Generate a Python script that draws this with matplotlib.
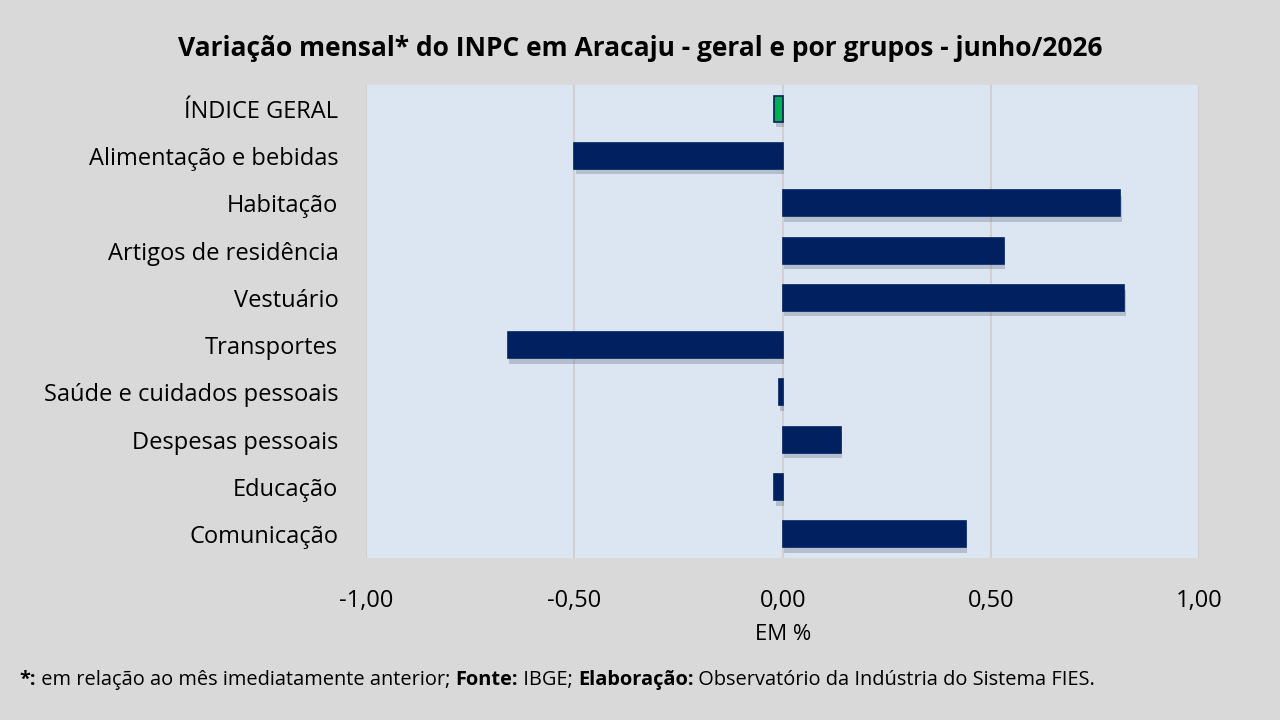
import numpy as np
import matplotlib.pyplot as plt
import matplotlib.patheffects as pe
from matplotlib.ticker import FuncFormatter

# dados
grupos = ["ÍNDICE GERAL", "Alimentação e bebidas", "Habitação", "Artigos de residência",
          "Vestuário", "Transportes", "Saúde e cuidados pessoais", "Despesas pessoais",
          "Educação", "Comunicação"]
variacao = [-0.02, -0.50, 0.81, 0.53, 0.82, -0.66, -0.01, 0.14, -0.02, 0.44]
cores = ["#00b050"] + ["#002060"] * 9

plt.rcParams['font.family'] = ['Open Sans', 'DejaVu Sans']

fig = plt.figure(figsize=(12.8, 7.2), dpi=100, facecolor="#d9d9d9")
ax = fig.add_axes([0.286, 0.225, 0.651, 0.657])
ax.set_facecolor("#dce6f2")

y = np.arange(len(grupos))
bars = ax.barh(y, variacao, height=0.55, color=cores, edgecolor="#002060", linewidth=1.2, zorder=3)
for b in bars:
    b.set_path_effects([pe.SimplePatchShadow(offset=(1, -4), shadow_rgbFace="#6b7585", alpha=0.35),
                        pe.Normal()])

ax.set_xlim(-1, 1)
ax.set_ylim(len(grupos) - 0.5, -0.5)
ax.set_yticks(y)
ax.set_yticklabels(grupos, fontsize=17)
ax.set_xticks([-1, -0.5, 0, 0.5, 1])
ax.xaxis.set_major_formatter(FuncFormatter(lambda v, p: f"{v:.2f}".replace(".", ",")))
ax.tick_params(axis='x', labelsize=17, length=0, pad=22)
ax.tick_params(axis='y', length=0, pad=20)
ax.grid(axis='x', color="#d0d0d0", linewidth=1.5, zorder=0)
for s in ax.spines.values():
    s.set_visible(False)
ax.set_xlabel("EM %", fontsize=16, labelpad=8)

fig.text(0.5, 0.933, "Variação mensal* do INPC em Aracaju - geral e por grupos - junho/2026",
         ha="center", va="center", fontsize=19, fontweight="bold")

# rodapé em partes (negrito / normal)
parts = [("*:", "bold"), (" em relação ao mês imediatamente anterior; ", "normal"),
         ("Fonte:", "bold"), (" IBGE; ", "normal"), ("Elaboração:", "bold"),
         (" Observatório da Indústria do Sistema FIES.", "normal")]
fig.canvas.draw()
r = fig.canvas.get_renderer()
x = 0.015
for txt, w in parts:
    tt = fig.text(x, 0.055, txt, fontsize=14.4, fontweight=w, va="center")
    bb = tt.get_window_extent(renderer=r)
    x += bb.width / fig.bbox.width

fig.savefig("out.png", dpi=100, facecolor=fig.get_facecolor())
